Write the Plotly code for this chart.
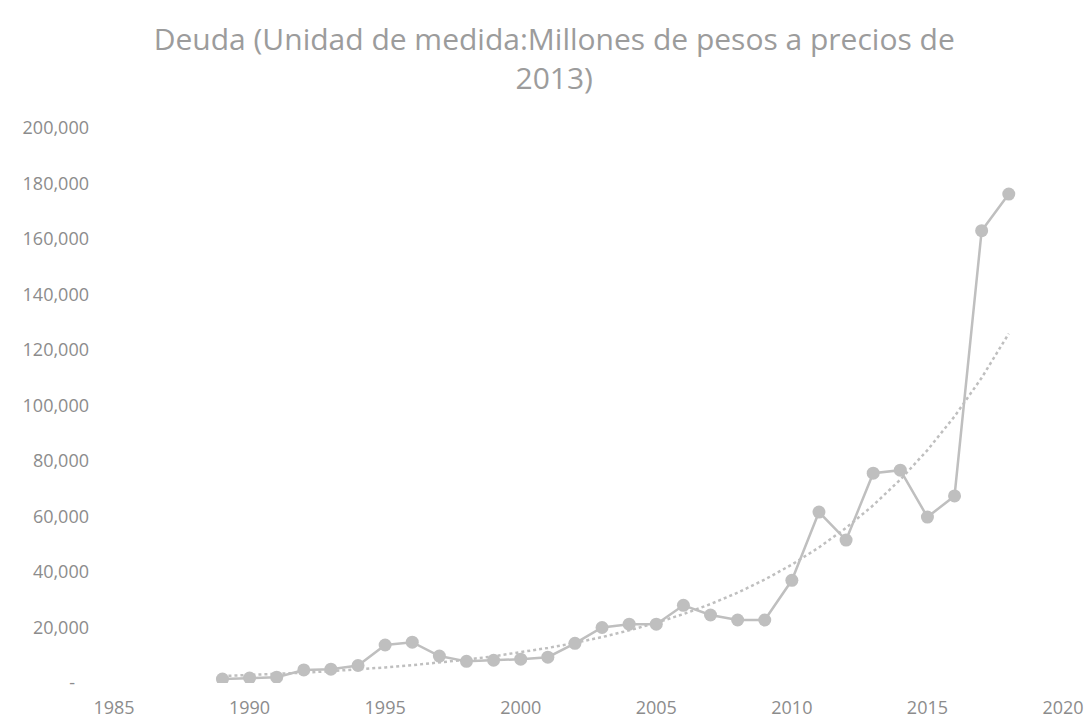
import numpy as np
import plotly.graph_objects as go

# Annual debt, millions of pesos at 2013 prices
years = list(range(1989, 2019))
deuda = [1400, 1800, 2100, 4700, 5000, 6300, 13700, 14700, 9700, 7800,
         8200, 8600, 9300, 14300, 20000, 21200, 21200, 28000, 24500, 22700,
         22700, 37000, 61600, 51500, 75600, 76700, 59800, 67400, 163000, 176200]

y_tickvals = [0, 20000, 40000, 60000, 80000, 100000, 120000, 140000, 160000, 180000, 200000]
y_ticktext = ["-\u00a0\u00a0\u00a0", "20,000", "40,000", "60,000", "80,000", "100,000",
              "120,000", "140,000", "160,000", "180,000", "200,000"]
x_tickvals = [1985, 1990, 1995, 2000, 2005, 2010, 2015, 2020]

# Exponential trendline (least squares on log values)
yrs = np.array(years, dtype=float)
b, a = np.polyfit(yrs, np.log(np.array(deuda, dtype=float)), 1)
trend = np.exp(a + b * yrs)

GRAY = "#BFBFBF"
TEXT = "#8C8C8C"
FONT = "Open Sans"

fig = go.Figure()
fig.add_trace(go.Scatter(
    x=years, y=trend, mode="lines",
    line=dict(color=GRAY, width=2.5, dash="dot"),
    hoverinfo="skip", showlegend=False,
))
fig.add_trace(go.Scatter(
    x=years, y=deuda, mode="lines+markers",
    line=dict(color=GRAY, width=2.5),
    marker=dict(color=GRAY, size=13),
    showlegend=False,
))

fig.update_layout(
    width=1091, height=720,
    paper_bgcolor="white", plot_bgcolor="white",
    margin=dict(l=114, r=28, t=128, b=37),
    title=dict(
        text="Deuda (Unidad de medida:Millones de pesos a precios de<br>2013)",
        x=0.508, xanchor="center", yref="container", y=1 - 50 / 720, yanchor="middle",
        font=dict(family=FONT, size=30, color="#9C9C9C"),
    ),
    xaxis=dict(
        range=[1985, 2020], tickvals=x_tickvals, automargin=False,
        showgrid=False, zeroline=False, showline=False,
        tickfont=dict(family=FONT, size=18, color=TEXT),
        ticks="", ticklabelstandoff=12,
    ),
    yaxis=dict(
        range=[0, 200000], tickvals=y_tickvals, ticktext=y_ticktext, automargin=False,
        showgrid=False, zeroline=False, showline=False,
        tickfont=dict(family=FONT, size=18, color=TEXT),
        ticks="", ticklabelstandoff=24,
    ),
)

fig.write_html("out.html")
